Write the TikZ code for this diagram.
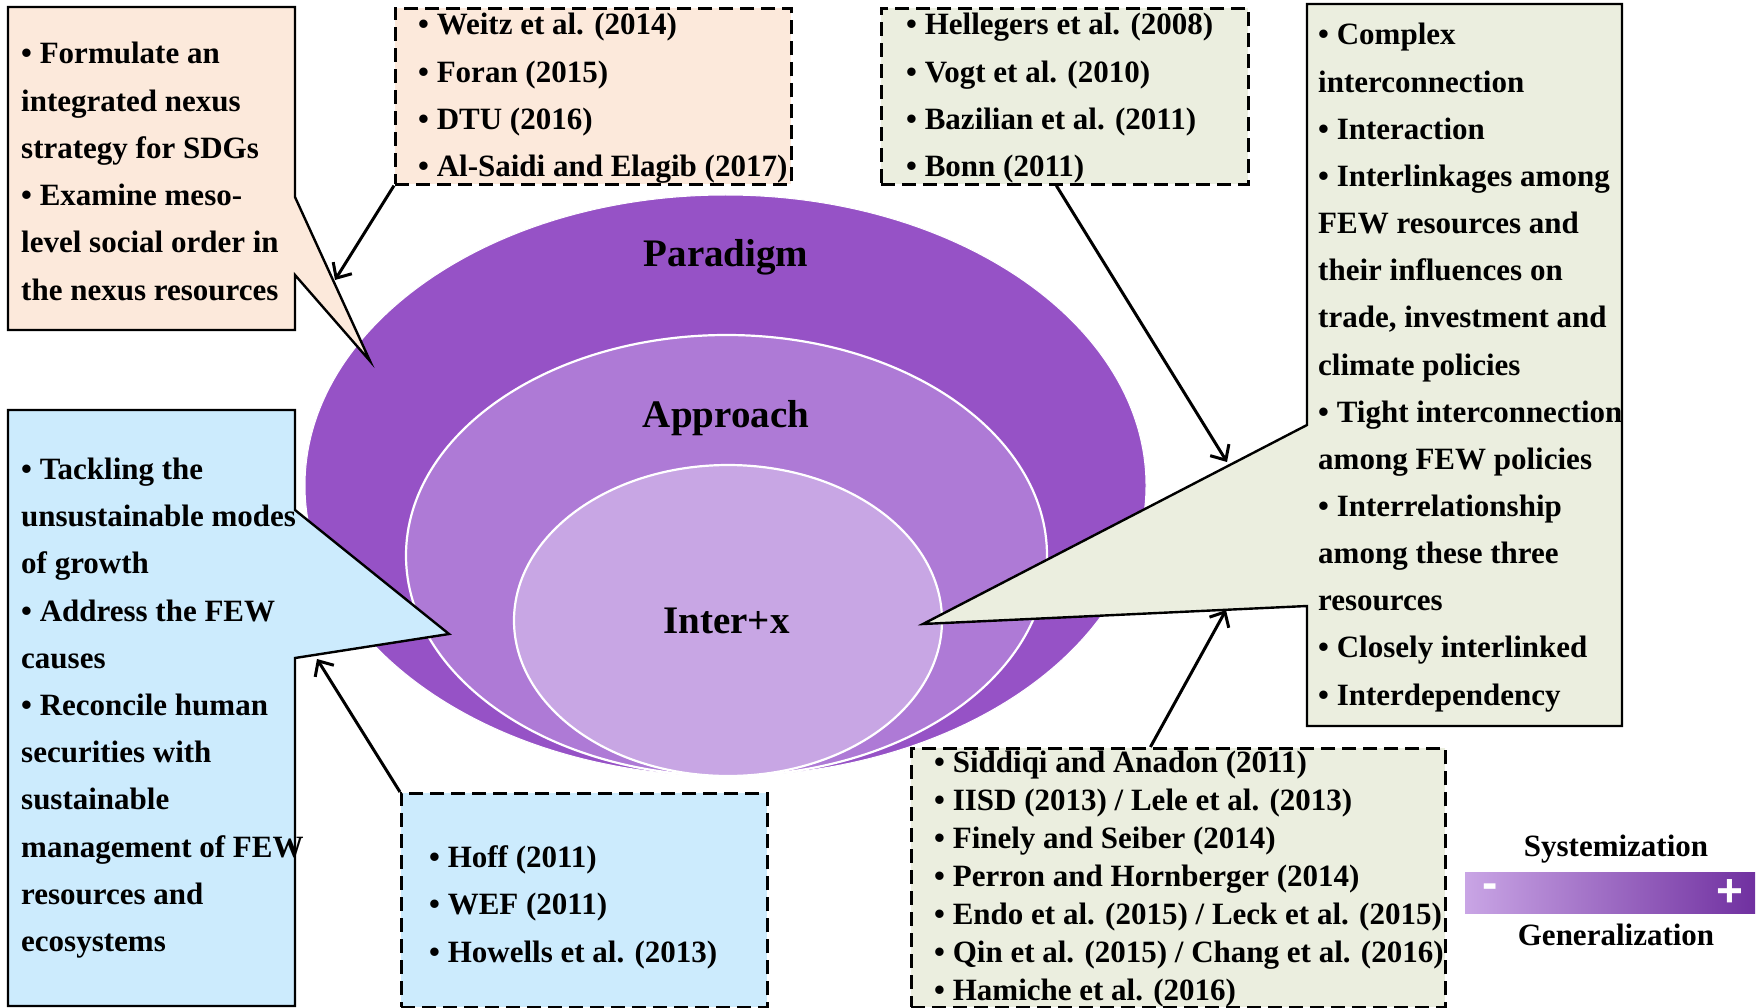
\documentclass[tikz,border=0pt]{standalone}
\usepackage{fontspec}
\setmainfont{Liberation Serif}
\newfontfamily\signfont{Liberation Sans}
\usetikzlibrary{arrows.meta,shapes.geometric,calc}

\definecolor{peach}{HTML}{FCE9DB}
\definecolor{sage}{HTML}{EBEEDF}
\definecolor{sky}{HTML}{CCEBFD}
\definecolor{ringA}{HTML}{9652C6}
\definecolor{ringB}{HTML}{AE7AD6}
\definecolor{ringC}{HTML}{C8A6E4}
\definecolor{scaleLo}{HTML}{C9A5E5}
\definecolor{scaleHi}{HTML}{7030A0}

\tikzset{
  body/.style={font=\fontsize{31}{38}\selectfont\bfseries, inner sep=0pt, anchor=base west},
  ringlabel/.style={font=\fontsize{39}{45}\selectfont\bfseries, inner sep=0pt, anchor=base},
  legendtext/.style={font=\fontsize{31}{38}\selectfont\bfseries, inner sep=0pt, anchor=base},
  ring/.style={ellipse, inner sep=0pt, draw=white},
  callout/.style={draw=black, line width=2.4pt, line join=miter},
  refbox/.style={draw=black, line width=2.6pt, dash pattern=on 14pt off 7pt,
                 rectangle, inner sep=0pt, anchor=north west},
  link/.style={line width=3pt, -{Straight Barb[length=12pt,width=22pt,line width=3pt]}},
  sign/.style={font=\fontsize{46}{46}\selectfont\signfont\bfseries, text=white, inner sep=0pt},
}

\begin{document}
\begin{tikzpicture}[x=1pt,y=-1pt]
  \useasboundingbox (0,0) rectangle (1758,1008);

  % nested rings
  \node[ring, fill=ringA, line width=1pt, minimum width=841pt, minimum height=581pt] (paradigm) at (725.5,485.5) {};
  \node[ring, fill=ringB, line width=2.2pt, minimum width=641pt, minimum height=441pt] (approach) at (726.5,555.5) {};
  \node[ring, fill=ringC, line width=2.2pt, minimum width=428pt, minimum height=311pt] (interx) at (728,620.5) {};
  \node[ringlabel] (lblParadigm) at (726,267) {Paradigm};
  \node[ringlabel] (lblApproach) at (726,427) {Approach};
  \node[ringlabel] (lblInterx) at (726.5,633) {Inter+x};

  % callout boxes
  \draw[callout, fill=peach] (8,7) -- (295,7) -- (295,197) -- (370,361) -- (295,275)
        -- (295,330) -- (8,330) -- cycle;
  \draw[callout, fill=sky] (8,410) -- (295,410) -- (295,510) -- (449,634) -- (295,658)
        -- (295,1006) -- (8,1006) -- cycle;
  \draw[callout, fill=sage] (1307,4) -- (1622,4) -- (1622,726) -- (1307,726) -- (1307,606)
        -- (923,624) -- (1307,425) -- cycle;

  % reference boxes
  \node[refbox, fill=peach, minimum width=396pt, minimum height=176pt] (pkRefs) at (394,7) {};
  \node[refbox, fill=sage, minimum width=367pt, minimum height=176pt] (gnTopRefs) at (880,7) {};
  \node[refbox, fill=sky, minimum width=366pt, minimum height=214pt] (skRefs) at (400,792) {};
  \node[refbox, fill=sage, minimum width=534pt, minimum height=259pt] (gnLowRefs) at (910,747) {};

  % arrow targets on the callout edges
  \coordinate (pkTarget) at (335,280);
  \coordinate (skTarget) at (317,659);
  \coordinate (gnTargetA) at (1227,462);
  \coordinate (gnTargetB) at (1226,610);

  \draw[link] (pkRefs.south west) -- (pkTarget);
  \draw[link] ($(gnTopRefs.south west)!0.477!(gnTopRefs.south east)$) -- (gnTargetA);
  \draw[link] (skRefs.north west) -- (skTarget);
  \draw[link] ($(gnLowRefs.north west)!0.448!(gnLowRefs.north east)$) -- (gnTargetB);

  % callout texts
  \foreach \s [count=\k] in {• Formulate an, integrated nexus, strategy for SDGs,
      • Examine meso-, level social order in, the nexus resources}
    \node[body] (pkText\k) at (21,{64+47.2*(\k-1)}) {\s};

  \foreach \s [count=\k] in {• Tackling the, unsustainable modes, of growth,
      • Address the FEW, causes, • Reconcile human, securities with, sustainable,
      management of FEW, resources and, ecosystems}
    \node[body] (skText\k) at (21,{479.5+47.2*(\k-1)}) {\s};

  \foreach \s [count=\k] in {• Complex, interconnection, • Interaction,
      • Interlinkages among, FEW resources and, their influences on,
      {trade, investment and}, climate policies, • Tight interconnection,
      among FEW policies, • Interrelationship, among these three, resources,
      • Closely interlinked, • Interdependency}
    \node[body] (gnText\k) at (1318,{45+47.15*(\k-1)}) {\s};

  % reference lists
  \foreach \s [count=\k] in {• Weitz et al. (2014), • Foran (2015), • DTU (2016),
      • Al-Saidi and Elagib (2017)}
    \node[body] (pkRef\k) at (418,{35+47.3*(\k-1)}) {\s};

  \foreach \s [count=\k] in {• Hellegers et al. (2008), • Vogt et al. (2010),
      • Bazilian et al. (2011), • Bonn (2011)}
    \node[body] (gnTopRef\k) at (906,{35+47.3*(\k-1)}) {\s};

  \foreach \s [count=\k] in {• Hoff (2011), • WEF (2011), • Howells et al. (2013)}
    \node[body] (skRef\k) at (429,{867+47.5*(\k-1)}) {\s};

  \foreach \s [count=\k] in {• Siddiqi and Anadon (2011), • IISD (2013) / Lele et al. (2013),
      • Finely and Seiber (2014), • Perron and Hornberger (2014),
      • Endo et al. (2015) / Leck et al. (2015), • Qin et al. (2015) / Chang et al. (2016),
      • Hamiche et al. (2016)}
    \node[body] (gnLowRef\k) at (934,{772+38*(\k-1)}) {\s};

  % legend
  \node[legendtext] (sysLabel) at (1616,856) {Systemization};
  \node[rectangle, inner sep=0pt, anchor=north west, minimum width=290pt, minimum height=41pt,
        left color=scaleLo, middle color=ringB, right color=scaleHi] (scaleBar) at (1465,872) {};
  \node[sign] (minusSign) at (1490,891) {-};
  \node[sign] (plusSign) at (1730,893) {+};
  \node[legendtext] (genLabel) at (1616,945) {Generalization};
\end{tikzpicture}
\end{document}
